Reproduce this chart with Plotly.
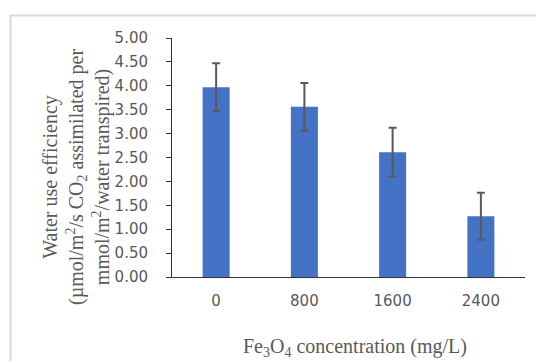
import plotly.graph_objects as go

categories = ["0", "800", "1600", "2400"]
wue_values = [3.97, 3.56, 2.61, 1.27]
wue_errors = [0.50, 0.50, 0.51, 0.49]

L, R, T, B = 172, 11, 38, 84
W, H = 536, 361
PW, PH = W - L - R, H - T - B

def px_x(px):
    return (px - L) / PW

def px_y(py):
    return (H - B - py) / PH

fig = go.Figure()
fig.add_trace(go.Bar(
    x=categories, y=wue_values,
    marker=dict(color="#4472C4", line=dict(width=0)),
    error_y=dict(type="data", array=wue_errors, visible=True,
                 color="#595959", thickness=2, width=4),
    hoverinfo="skip",
))

fig.update_layout(
    width=W, height=H,
    margin=dict(l=L, r=R, t=T, b=B),
    paper_bgcolor="white", plot_bgcolor="white",
    bargap=0.694,
    showlegend=False,
    xaxis=dict(
        type="category",
        showline=True, linecolor="#333333", linewidth=1,
        ticks="", showgrid=False, zeroline=False,
        tickfont=dict(family="DejaVu Sans", size=15, color="#595959"),
        ticklabelstandoff=10,
    ),
    yaxis=dict(
        range=[0, 5], dtick=0.5, tickformat=".2f",
        showline=True, linecolor="#333333", linewidth=1,
        ticks="outside", ticklen=5, tickcolor="#333333",
        showgrid=False, zeroline=False,
        tickfont=dict(family="DejaVu Sans", size=15, color="#595959"),
        ticklabelstandoff=15,
    ),
    annotations=[
        dict(
            text="Water use efficiency<br>(µmol/m<sup>2</sup>/s CO<sub>2</sub> assimilated per<br>mmol/m<sup>2</sup>/water transpired)",
            textangle=-90, xref="paper", yref="paper",
            x=px_x(76), y=px_y(177), xanchor="center", yanchor="middle",
            showarrow=False, align="center",
            font=dict(family="Liberation Serif", size=20, color="#595959"),
        ),
        dict(
            text="Fe<sub>3</sub>O<sub>4</sub> concentration (mg/L)",
            xref="paper", yref="paper",
            x=px_x(355), y=px_y(347), xanchor="center", yanchor="middle",
            showarrow=False,
            font=dict(family="Liberation Serif", size=20, color="#595959"),
        ),
    ],
    shapes=[
        dict(type="line", xref="paper", yref="paper",
             x0=px_x(10), x1=px_x(560), y0=px_y(15.5), y1=px_y(15.5),
             line=dict(color="#d9d9d9", width=2)),
        dict(type="line", xref="paper", yref="paper",
             x0=px_x(10.5), x1=px_x(10.5), y0=px_y(15), y1=px_y(380),
             line=dict(color="#d9d9d9", width=2)),
    ],
)

fig.write_html(
    "out.html",
    config={"displayModeBar": False, "staticPlot": True},
    post_script="document.body.style.margin='0';document.body.style.overflow='hidden';",
)
